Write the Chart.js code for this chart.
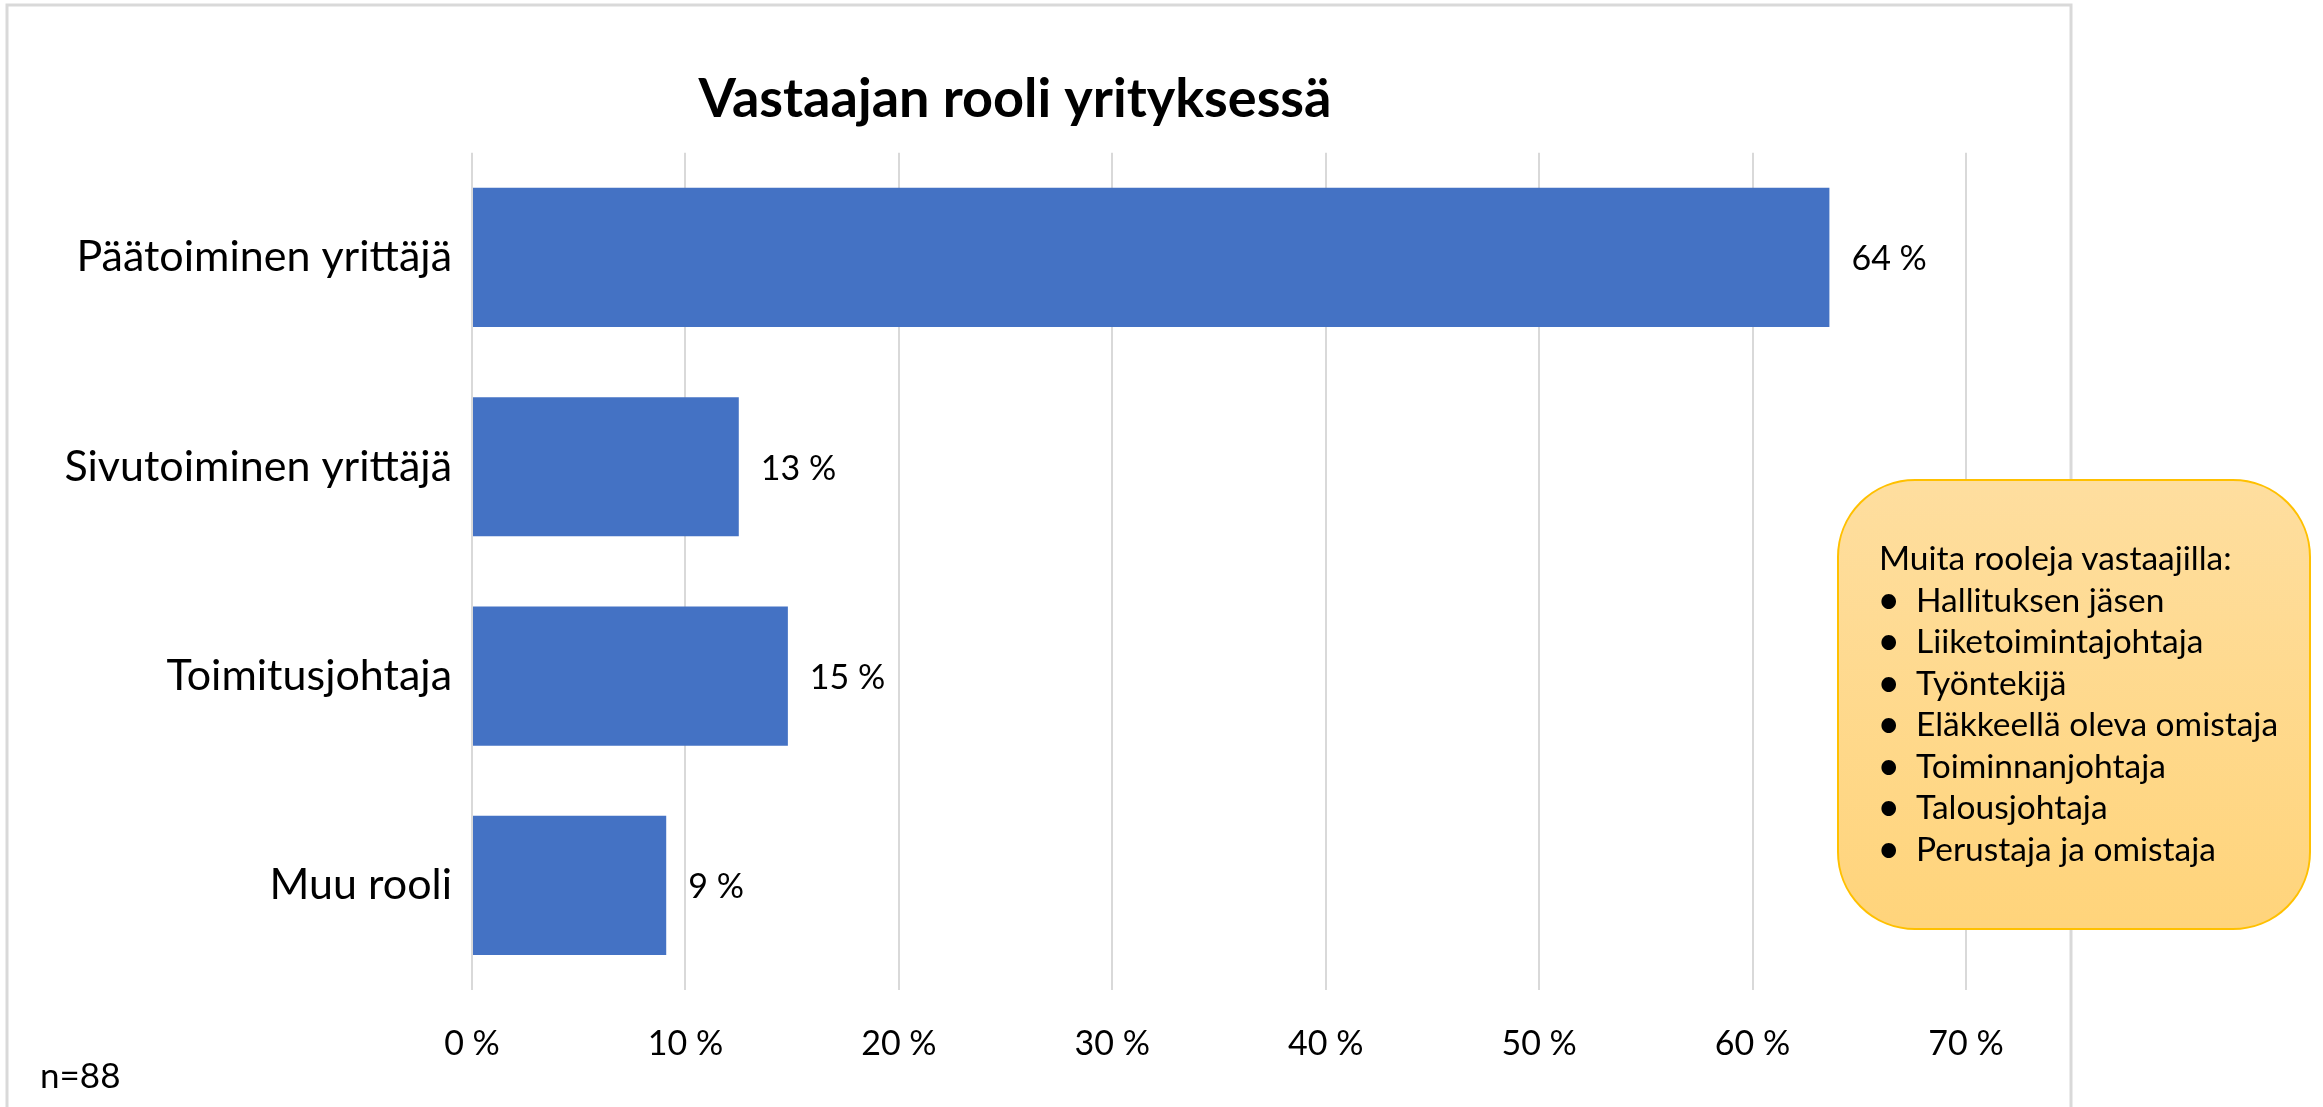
<!DOCTYPE html>
<html>
<head>
<meta charset="utf-8">
<script src="https://cdn.jsdelivr.net/npm/chart.js@4"></script>
<style>
  html, body { margin: 0; padding: 0; background: #fff; }
  #wrap { position: relative; width: 2323px; height: 1107px; overflow: hidden; }
  #chart { position: absolute; left: 0; top: 0; }
  #note {
    position: absolute; left: 1837px; top: 479px; width: 470px; height: 447px;
    border: 2px solid #FFC000; border-radius: 78px;
    background: linear-gradient(#FEDE9F, #FFD47B);
    font-family: Lato, sans-serif; font-size: 33.5px; line-height: 41.5px; color: #000;
    box-sizing: content-box;
  }
  #note .inner { position: absolute; left: 40px; top: 56px; white-space: nowrap; }
  #note .row { display: flex; }
  #note .dot { width: 37px; padding-left: 0; box-sizing: border-box; font-weight: bold; }
  #n { position: absolute; left: 40px; top: 1053px; font-family: Lato, sans-serif; font-size: 35px; color: #000; }
</style>
</head>
<body>
<div id="wrap">
  <canvas id="chart" width="2323" height="1107"></canvas>
  <div id="note"></div>
  <div id="n"></div>
</div>
<script>
const categories = ["Päätoiminen yrittäjä", "Sivutoiminen yrittäjä", "Toimitusjohtaja", "Muu rooli"];
const shares = [63.6, 12.5, 14.8, 9.1]; // % of respondents (n=88)
const axisMax = 70;
const axisStep = 10;
const chartTitle = "Vastaajan rooli yrityksessä";
const sampleSize = 88;
const noteHeading = "Muita rooleja vastaajilla:";
const otherRoles = [
  "Hallituksen jäsen",
  "Liiketoimintajohtaja",
  "Työntekijä",
  "Eläkkeellä oleva omistaja",
  "Toiminnanjohtaja",
  "Talousjohtaja",
  "Perustaja ja omistaja",
];

const FONT = "Lato, sans-serif";
const TEXT = "#000";

// callout box + sample size as real text
const note = document.getElementById("note");
let html = `<div class="inner"><div>${noteHeading}</div>`;
otherRoles.forEach((r) => { html += `<div class="row"><span class="dot">•</span><span>${r}</span></div>`; });
note.innerHTML = html + "</div>";
document.getElementById("n").textContent = `n=${sampleSize}`;

// outer chart border (light grey frame)
const frame = {
  id: "frame",
  beforeDraw(chart) {
    const ctx = chart.ctx;
    ctx.save();
    ctx.strokeStyle = "#D9D9D9";
    ctx.lineWidth = 3;
    ctx.strokeRect(7, 5, 2064, 1200);
    ctx.restore();
  },
};

// value labels to the right of each bar
const valueLabels = {
  id: "valueLabels",
  afterDatasetsDraw(chart) {
    const ctx = chart.ctx;
    const meta = chart.getDatasetMeta(0);
    ctx.save();
    ctx.font = `34px ${FONT}`;
    ctx.fillStyle = TEXT;
    ctx.textAlign = "left";
    ctx.textBaseline = "middle";
    meta.data.forEach((bar, i) => {
      ctx.fillText(`${Math.round(shares[i])} %`, bar.x + 22, bar.y + 2);
    });
    ctx.restore();
  },
};

new Chart(document.getElementById("chart").getContext("2d"), {
  type: "bar",
  data: {
    labels: categories,
    datasets: [{
      data: shares,
      backgroundColor: "#4472C4",
      borderWidth: 0,
      barPercentage: 0.665,
      categoryPercentage: 1,
    }],
  },
  options: {
    indexAxis: "y",
    responsive: false,
    animation: false,
    layout: { padding: { left: 64, right: 357, top: 0, bottom: 0 } },
    plugins: {
      legend: { display: false },
      tooltip: { enabled: false },
      title: {
        display: true,
        text: chartTitle,
        color: TEXT,
        font: { family: FONT, size: 54, weight: "bold" },
        padding: { top: 67, bottom: 21 },
      },
    },
    scales: {
      x: {
        min: 0,
        max: axisMax,
        ticks: {
          stepSize: axisStep,
          color: TEXT,
          font: { family: FONT, size: 34 },
          padding: 34,
          callback: (v) => `${v} %`,
        },
        grid: { color: "#D9D9D9", lineWidth: 2, drawTicks: false },
        border: { display: false },
        afterFit: (s) => { s.height = 117; },
      },
      y: {
        ticks: { color: TEXT, font: { family: FONT, size: 43 }, padding: 20 },
        grid: { display: false, drawTicks: false },
        border: { display: false },
        afterFit: (s) => { s.width = 408; },
      },
    },
  },
  plugins: [frame, valueLabels],
});
</script>
</body>
</html>
